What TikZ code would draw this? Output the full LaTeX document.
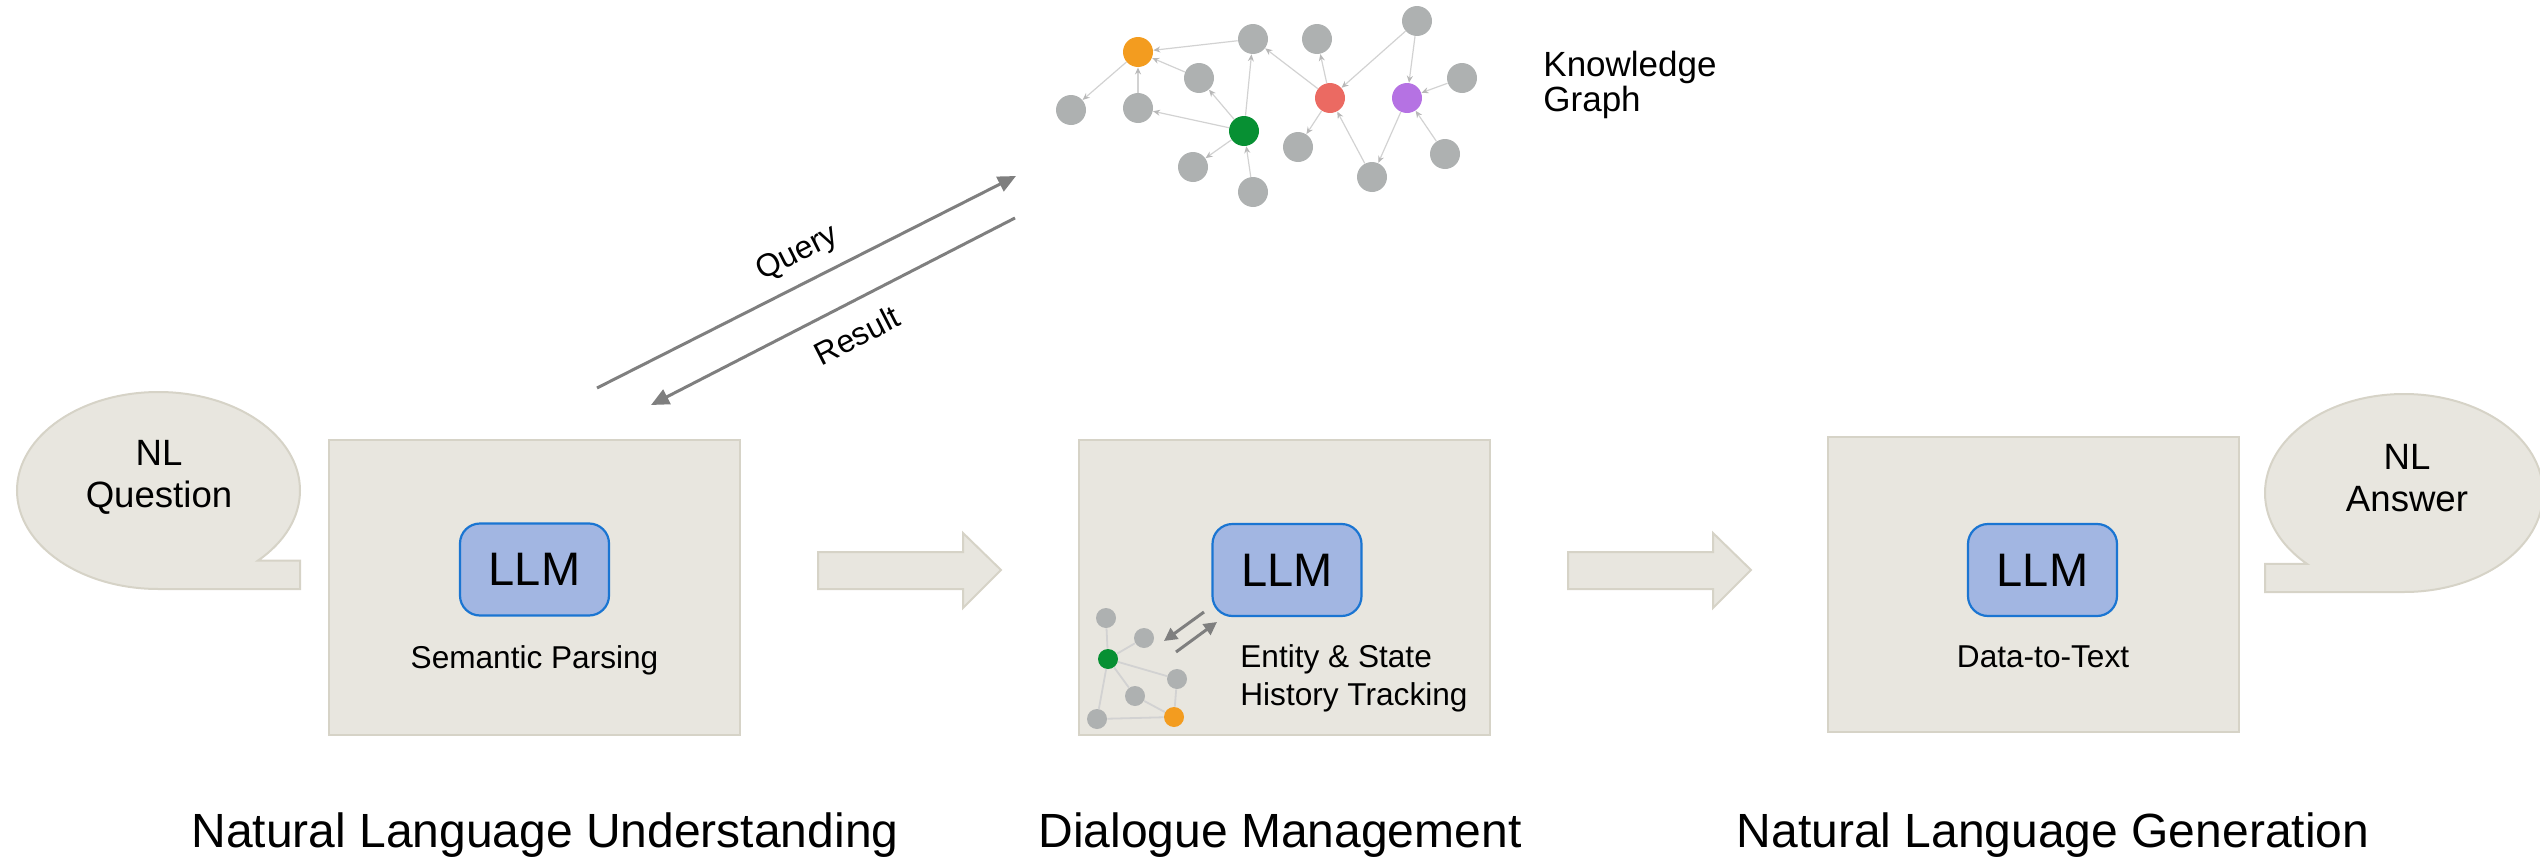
\documentclass[tikz,border=0pt]{standalone}
\usepackage{fontspec}
\setmainfont{Liberation Sans}
\usetikzlibrary{arrows.meta}
\definecolor{boxfill}{HTML}{E8E6DF}
\definecolor{boxline}{HTML}{D6D3C7}
\definecolor{llmfill}{HTML}{A2B6E2}
\definecolor{llmline}{HTML}{1A75D2}
\definecolor{kgray}{HTML}{AEB1B1}
\definecolor{korange}{HTML}{F39C1F}
\definecolor{kred}{HTML}{EB6A62}
\definecolor{kpurple}{HTML}{B572E3}
\definecolor{kgreen}{HTML}{079033}
\definecolor{edgegray}{HTML}{D2D2D2}
\definecolor{tipgray}{HTML}{B8B8B8}
\definecolor{arrgray}{HTML}{7F7F7F}
\begin{document}
\begin{tikzpicture}[x=0.5pt,y=-0.5pt,
  stagebox/.style={draw=boxline,fill=boxfill,line width=1pt},
  llm/.style={draw=llmline,fill=llmfill,line width=1.1pt,rounded corners=10pt,
    minimum width=74.5pt,minimum height=46pt,inner sep=0pt,
    font=\fontsize{23.5}{28}\selectfont},
  sublabel/.style={font=\fontsize{15.8}{19}\selectfont,anchor=base,inner sep=0pt},
  stagelabel/.style={font=\fontsize{24}{29}\selectfont,anchor=base,inner sep=0pt},
  bubbletext/.style={font=\fontsize{18.3}{21}\selectfont,align=center,inner sep=0pt},
  kn/.style={circle,fill=kgray,minimum size=15pt,inner sep=0pt},
  sn/.style={circle,fill=kgray,minimum size=10pt,inner sep=0pt},
  kedge/.style={draw=edgegray,line width=0.6pt,-{Stealth[length=3.5pt,width=3pt,color=tipgray]}},
  sedge/.style={draw=edgegray,line width=0.9pt},
  bigarrow/.style={draw=arrgray,line width=1.5pt,-{Triangle[length=9pt,width=8pt]}},
  smallarrow/.style={draw=arrgray,line width=1.5pt,-{Triangle[length=6.5pt,width=6.5pt]}},
  blockarrow/.style={draw=boxline,fill=boxfill,line width=1pt}
]
\useasboundingbox (0,0) rectangle (2540,862);

% ---------- speech bubbles ----------
\draw[stagebox] (158.5,589) arc[start angle=90,end angle=405.3,x radius=141.5,y radius=98.5]
  -- (300,560.5) -- (300,589) -- cycle;
\node[bubbletext] (nlq) at (159,477) {NL\\Question};

\begin{scope}
\clip (0,0) rectangle (2540,862);
\draw[stagebox] (2404,592) arc[start angle=90,end angle=-225.7,x radius=139,y radius=99]
  -- (2265,563.9) -- (2265,592) -- cycle;
\end{scope}
\node[bubbletext] (nla) at (2407,478) {NL\\Answer};

% ---------- stage boxes ----------
\node[stagebox,minimum width=205.5pt,minimum height=147.5pt,inner sep=0pt] (nlu) at (534.5,587.5) {};
\node[stagebox,minimum width=205.5pt,minimum height=147.5pt,inner sep=0pt] (dm) at (1284.5,587.5) {};
\node[stagebox,minimum width=205.5pt,minimum height=147.5pt,inner sep=0pt] (nlg) at (2033.5,584.5) {};

\node[llm] (llm1) at (534.5,569.5) {LLM};
\node[llm] (llm2) at (1287,570) {LLM};
\node[llm] (llm3) at (2042.5,570) {LLM};

\node[sublabel] (sp) at (534.5,668) {Semantic Parsing};
\node[sublabel] (dt) at (2043,667) {Data-to-Text};
\node[font=\fontsize{15.8}{19}\selectfont,align=left,anchor=north west,inner sep=0pt]
  (est) at (1240,644) {Entity \& State\\History Tracking};

% ---------- block arrows ----------
\draw[blockarrow] (818,552) -- (963,552) -- (963,533) -- (1001,570) -- (963,608) -- (963,589) -- (818,589) -- cycle;
\draw[blockarrow] (1568,552) -- (1713,552) -- (1713,533) -- (1751,570) -- (1713,608) -- (1713,589) -- (1568,589) -- cycle;

% ---------- small graph in dialogue management ----------
\node[sn] (sa) at (1106,618) {};
\node[sn] (sb) at (1144,638) {};
\node[sn,fill=kgreen] (sg) at (1108,659) {};
\node[sn] (sc) at (1177,679) {};
\node[sn] (sd) at (1135,696) {};
\node[sn] (se) at (1097,719) {};
\node[sn,fill=korange] (so) at (1174,717) {};
\draw[sedge] (sa) -- (sg);
\draw[sedge] (sg) -- (sb);
\draw[sedge] (sg) -- (sc);
\draw[sedge] (sg) -- (sd);
\draw[sedge] (sg) -- (se);
\draw[sedge] (sd) -- (so);
\draw[sedge] (sc) -- (so);
\draw[sedge] (se) -- (so);
\coordinate (s1a) at (1204,612);
\coordinate (s1b) at (1164,641);
\coordinate (s2a) at (1176,652);
\coordinate (s2b) at (1217,622);
\draw[smallarrow] (s1a) -- (s1b);
\draw[smallarrow] (s2a) -- (s2b);

% ---------- knowledge graph ----------
\node[kn,fill=korange] (ko) at (1138,52) {};
\node[kn] (kA) at (1253,39) {};
\node[kn] (kB) at (1317,39) {};
\node[kn] (kC) at (1417,21) {};
\node[kn] (kD) at (1199,78) {};
\node[kn,fill=kred] (kr) at (1330,98) {};
\node[kn,fill=kpurple] (kp) at (1407,98) {};
\node[kn] (kE) at (1462,78) {};
\node[kn] (kF) at (1071,110) {};
\node[kn] (kG) at (1138,108) {};
\node[kn,fill=kgreen] (kg) at (1244,131) {};
\node[kn] (kH) at (1298,147) {};
\node[kn] (kI) at (1193,167) {};
\node[kn] (kJ) at (1372,177) {};
\node[kn] (kK) at (1445,154) {};
\node[kn] (kL) at (1253,192) {};
\draw[kedge] (kA) -- (ko);
\draw[kedge] (kD) -- (ko);
\draw[kedge] (kG) -- (ko);
\draw[kedge] (ko) -- (kF);
\draw[kedge] (kg) -- (kG);
\draw[kedge] (kg) -- (kD);
\draw[kedge] (kg) -- (kA);
\draw[kedge] (kL) -- (kg);
\draw[kedge] (kg) -- (kI);
\draw[kedge] (kr) -- (kA);
\draw[kedge] (kr) -- (kB);
\draw[kedge] (kC) -- (kr);
\draw[kedge] (kr) -- (kH);
\draw[kedge] (kJ) -- (kr);
\draw[kedge] (kC) -- (kp);
\draw[kedge] (kE) -- (kp);
\draw[kedge] (kp) -- (kJ);
\draw[kedge] (kK) -- (kp);
\node[font=\fontsize{17.5}{17.5}\selectfont,align=left,anchor=north west,inner sep=0pt]
  (kgl) at (1543,51) {Knowledge\\Graph};

% ---------- query / result ----------
\coordinate (qs) at (597,388);
\coordinate (qe) at (1016,176);
\coordinate (rs) at (1015,218);
\coordinate (re) at (651,405);
\draw[bigarrow] (qs) -- node[pos=0.51,sloped,above=3pt,font=\fontsize{16}{19}\selectfont] (ql) {Query} (qe);
\draw[bigarrow] (rs) -- node[pos=0.475,sloped,below=6pt,font=\fontsize{16}{19}\selectfont] (rl) {Result} (re);

% ---------- stage titles ----------
\node[stagelabel] (t1) at (545,847) {Natural Language Understanding};
\node[stagelabel] (t2) at (1280,847) {Dialogue Management};
\node[stagelabel] (t3) at (2053,847) {Natural Language Generation};
\end{tikzpicture}
\end{document}
